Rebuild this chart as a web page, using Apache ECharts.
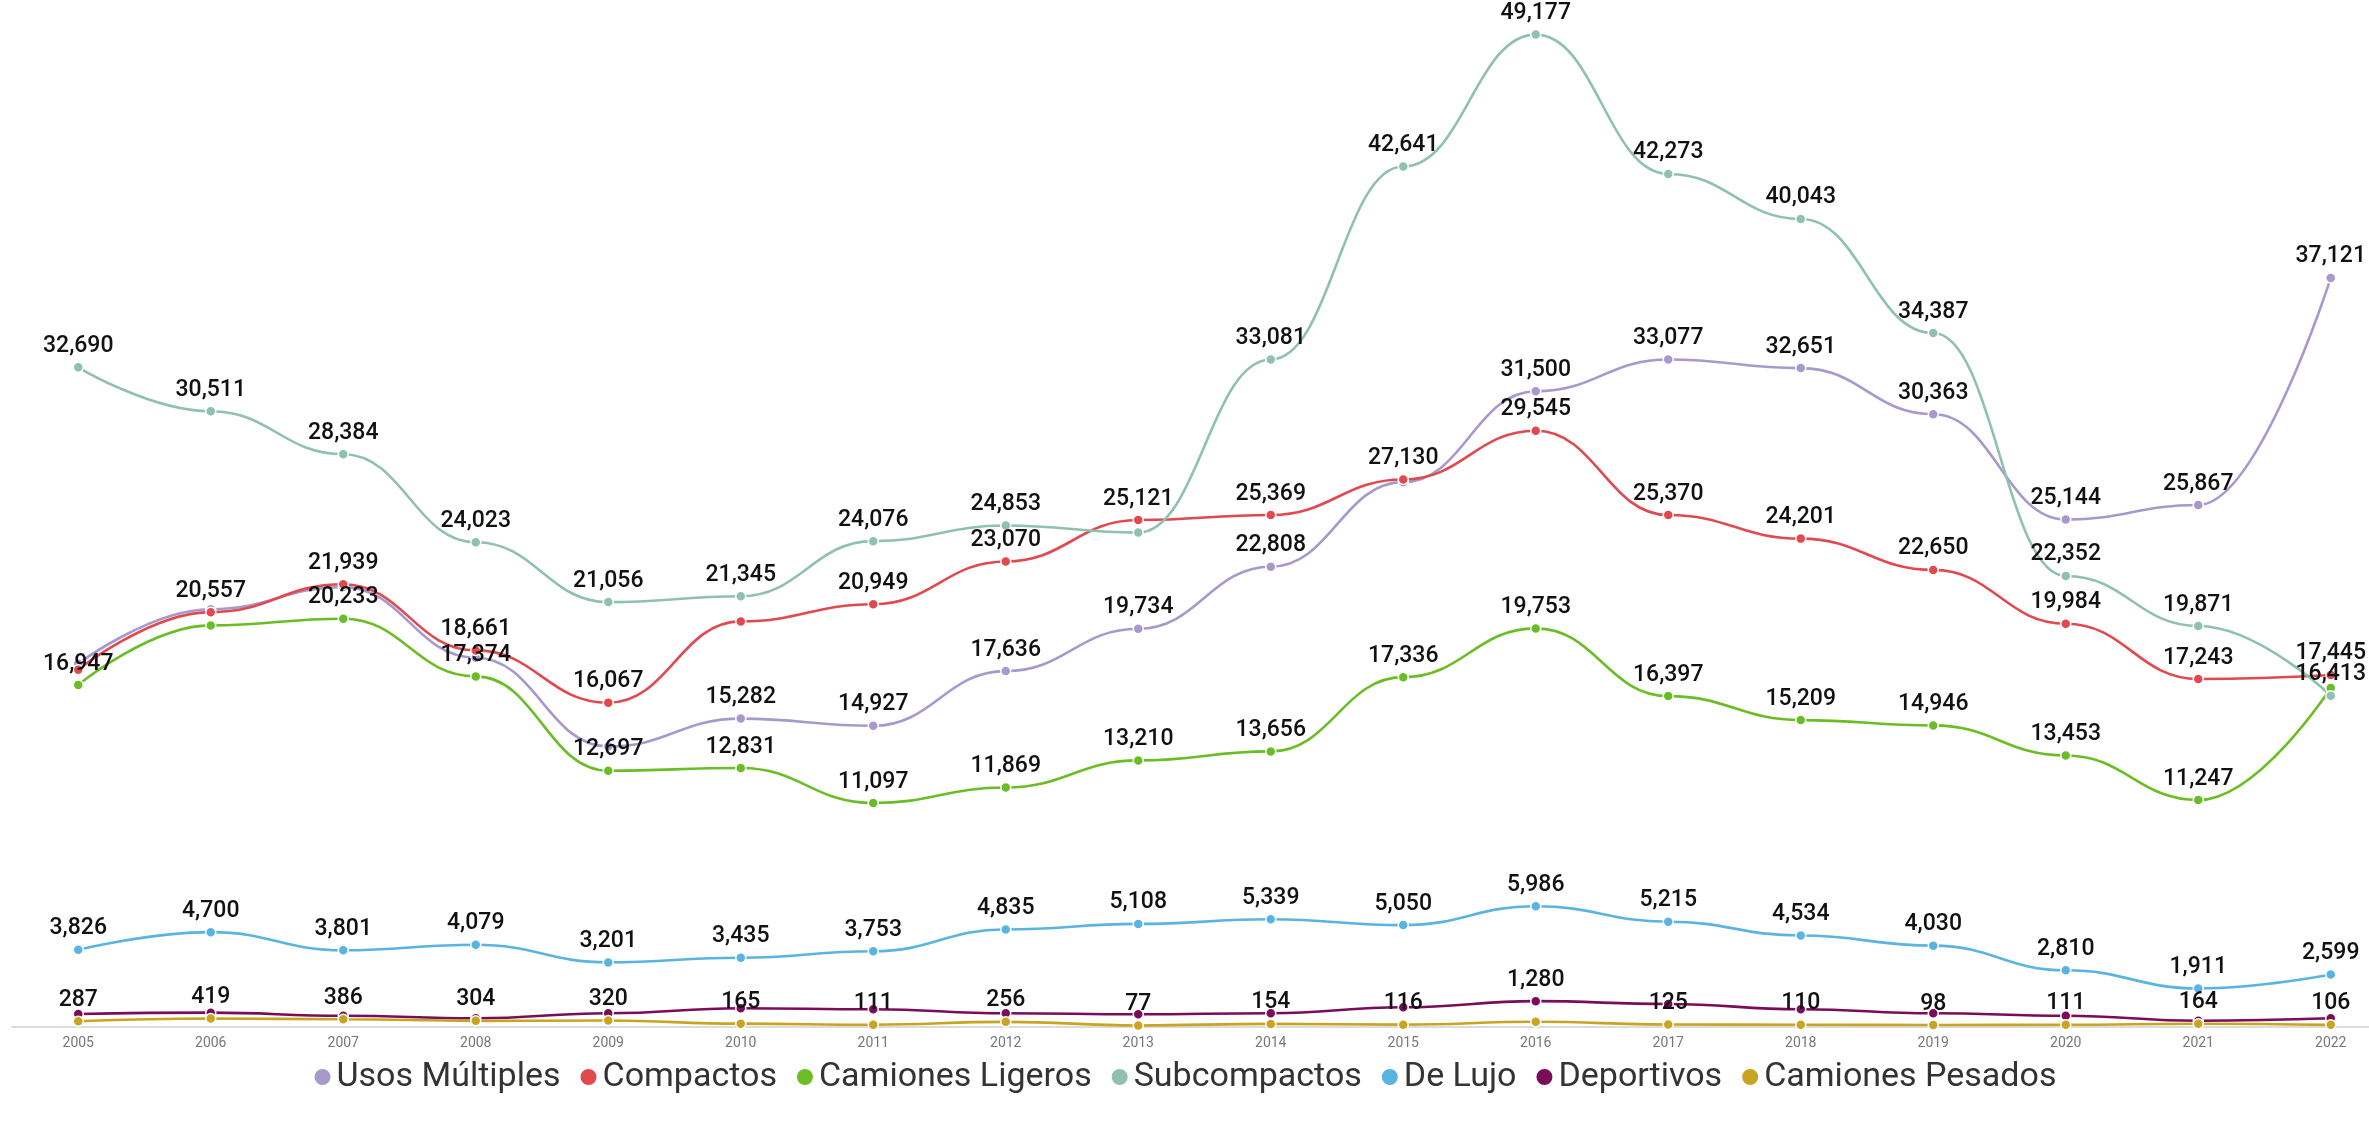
<!DOCTYPE html>
<html>
<head>
<meta charset="utf-8">
<title>Ventas por segmento</title>
<script src="https://cdn.jsdelivr.net/npm/echarts@6/dist/echarts.min.js"></script>
<style>
  html, body { margin: 0; padding: 0; background: #fff; }
  #chart { width: 2369px; height: 1121px; }
</style>
</head>
<body>
<div id="chart"></div>
<script>
const years = ['2005', '2006', '2007', '2008', '2009', '2010', '2011', '2012', '2013',
  '2014', '2015', '2016', '2017', '2018', '2019', '2020', '2021', '2022']

const usosMultiples = [18000, 20700, 21800, 18300, 13900, 15282, 14927, 17636, 19734, 22808, 27000, 31500, 33077, 32651, 30363, 25144, 25867, 37121]
const compactos = [17700, 20557, 21939, 18661, 16067, 20100, 20949, 23070, 25121, 25369, 27130, 29545, 25370, 24201, 22650, 19984, 17243, 17445]
const camionesLigeros = [16947, 19900, 20233, 17374, 12697, 12831, 11097, 11869, 13210, 13656, 17336, 19753, 16397, 15209, 14946, 13453, 11247, 16800]
const subcompactos = [32690, 30511, 28384, 24023, 21056, 21345, 24076, 24853, 24500, 33081, 42641, 49177, 42273, 40043, 34387, 22352, 19871, 16413]
const deLujo = [3826, 4700, 3801, 4079, 3201, 3435, 3753, 4835, 5108, 5339, 5050, 5986, 5215, 4534, 4030, 2810, 1911, 2599]
const deportivos = [645, 710, 560, 430, 680, 930, 880, 680, 630, 680, 975, 1280, 1140, 880, 680, 560, 310, 430]
const camionesPesados = [287, 419, 386, 304, 320, 165, 111, 256, 77, 154, 116, 260, 125, 110, 98, 111, 164, 106]

// years whose value label is hidden in the original (overlapping labels)
const hiddenUsos = ['2005', '2006', '2007', '2008', '2009', '2015']
const hiddenCompactos = ['2005', '2010']
const hiddenLigeros = ['2006', '2022']
const hiddenSubcompactos = ['2013']
const hiddenDeLujo = []
const hiddenDeportivos = years.filter(y => y !== '2016')
const hiddenPesados = ['2016']

const colors = {
  usos: '#a898cc',
  compactos: '#e2494f',
  ligeros: '#6abd24',
  subcompactos: '#8fc0b2',
  lujo: '#5ab4e2',
  deportivos: '#7a0c58',
  pesados: '#c8a520'
}

const fmt = v => Number(v).toLocaleString('en-US')

function makeSeries(name, values, color, hidden) {
  return {
    name: name,
    type: 'line',
    smooth: 0.45,
    smoothMonotone: 'x',
    symbol: 'circle',
    symbolSize: 10,
    showAllSymbol: true,
    color: color,
    lineStyle: { width: 2.6, color: color },
    itemStyle: { color: color, borderColor: '#fff', borderWidth: 1.5 },
    label: {
      show: true,
      position: 'top',
      distance: 4,
      color: '#111',
      fontFamily: 'Roboto',
      fontSize: 23,
      fontWeight: 500,
      formatter: p => fmt(p.value)
    },
    emphasis: { disabled: true },
    data: values.map((v, i) => hidden.indexOf(years[i]) >= 0
      ? { value: v, label: { show: false } }
      : v)
  }
}

const chart = echarts.init(document.getElementById('chart'))
chart.setOption({
  backgroundColor: '#fff',
  animation: false,
  grid: { left: 12, right: -28, top: 18, bottom: 94, outerBoundsMode: 'none' },
  xAxis: {
    type: 'category',
    data: years,
    boundaryGap: true,
    axisLine: { lineStyle: { color: '#dcdcdc', width: 2 } },
    axisTick: { show: false },
    axisLabel: { color: '#777', fontSize: 14, fontFamily: 'Roboto', margin: 9 }
  },
  yAxis: {
    type: 'value',
    min: 0,
    max: 50000,
    show: false,
    splitLine: { show: false }
  },
  legend: {
    bottom: 22,
    left: 'center',
    icon: 'circle',
    itemWidth: 18,
    itemHeight: 18,
    itemGap: 18,
    textStyle: { color: '#333', fontSize: 34, fontFamily: 'Roboto' }
  },
  series: [
    makeSeries('Usos Múltiples', usosMultiples, colors.usos, hiddenUsos),
    makeSeries('Compactos', compactos, colors.compactos, hiddenCompactos),
    makeSeries('Camiones Ligeros', camionesLigeros, colors.ligeros, hiddenLigeros),
    makeSeries('Subcompactos', subcompactos, colors.subcompactos, hiddenSubcompactos),
    makeSeries('De Lujo', deLujo, colors.lujo, hiddenDeLujo),
    makeSeries('Deportivos', deportivos, colors.deportivos, hiddenDeportivos),
    makeSeries('Camiones Pesados', camionesPesados, colors.pesados, hiddenPesados)
  ]
})
</script>
</body>
</html>
